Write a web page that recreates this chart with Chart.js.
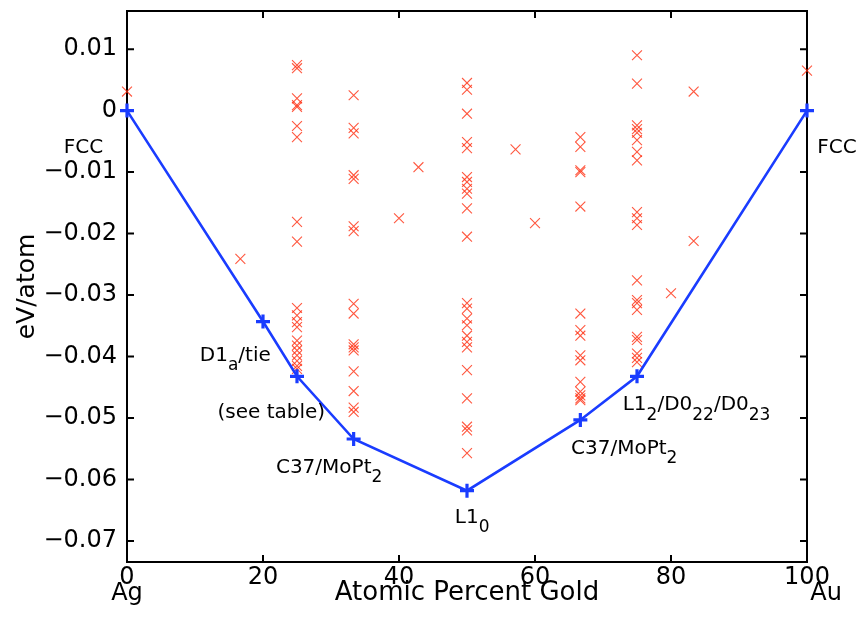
<!DOCTYPE html>
<html>
<head>
<meta charset="utf-8">
<script src="https://cdn.jsdelivr.net/npm/chart.js@4.4.0/dist/chart.umd.min.js"></script>
<style>
  html, body { margin: 0; padding: 0; background: #fff; }
  #wrap { width: 863px; height: 637px; }
</style>
</head>
<body>
<div id="wrap"><canvas id="hull-chart"></canvas></div>
<script>
// Ag-Au formation energies: other structures (red x) and the convex hull (blue +)

const FONT = '"DejaVu Sans", sans-serif';
const CROSS_COLOR = "rgba(255, 45, 15, 0.8)";
const HULL_COLOR = "#1a3cff";

// x positions of the tick labels
const xTicks = [0, 20, 40, 60, 80, 100];
const yTicks = [0.01, 0, -0.01, -0.02, -0.03, -0.04, -0.05, -0.06, -0.07];

// ground-state hull
const hullComp = [0, 20, 25, 33.33, 50, 66.67, 75, 100];
const hullEnergy = [0, -0.0343, -0.0432, -0.0534, -0.0618, -0.0503, -0.0432, 0];

// other calculated structures, grouped by composition
const otherComp = [0, 16.67, 25, 33.33, 40, 42.86, 50, 57.14, 60, 66.67, 75, 80, 83.33, 100];
const otherEnergy = [
  [0.0031],
  [-0.0241],
  [0.0074, 0.0069, 0.0020, 0.0009, 0.0006, -0.0025, -0.0043, -0.0181, -0.0213,
   -0.0321, -0.0333, -0.0344, -0.0352, -0.0374, -0.0382, -0.0390, -0.0398, -0.0407, -0.0415, -0.0420],
  [0.0025, -0.0028, -0.0037, -0.0105, -0.0111, -0.0188, -0.0196,
   -0.0314, -0.0330, -0.0380, -0.0385, -0.0390, -0.0424, -0.0456, -0.0483, -0.0490],
  [-0.0175],
  [-0.0092],
  [0.0045, 0.0034, -0.0005, -0.0051, -0.0061, -0.0108, -0.0116, -0.0127, -0.0135, -0.0159, -0.0205,
   -0.0313, -0.0322, -0.0338, -0.0349, -0.0366, -0.0376, -0.0385, -0.0422, -0.0468, -0.0514, -0.0520, -0.0557],
  [-0.0063],
  [-0.0183],
  [-0.0043, -0.0059, -0.0097, -0.0100, -0.0156, -0.0330, -0.0357, -0.0366, -0.0398, -0.0406,
   -0.0441, -0.0457, -0.0463, -0.0468, -0.0471],
  [0.0090, 0.0044, -0.0024, -0.0030, -0.0036, -0.0048, -0.0067, -0.0081, -0.0165, -0.0175, -0.0186,
   -0.0276, -0.0308, -0.0313, -0.0324, -0.0368, -0.0373, -0.0395, -0.0402, -0.0409],
  [-0.0297],
  [0.0031, -0.0212],
  [0.0065],
];

// structure labels, "_" marks a subscript
const labelTexts = ["FCC", "FCC", "D1_a/tie", "(see table)", "C37/MoPt_2", "L1_0", "C37/MoPt_2", "L1_2/D0_{22}/D0_{23}"];
const labelComp = [-9.3, 101.5, 10.7, 13.3, 21.9, 48.2, 65.3, 72.9];
const labelEnergy = [-0.0061, -0.0061, -0.0398, -0.0491, -0.0580, -0.0662, -0.0550, -0.0479];

const crossPoints = [];
otherComp.forEach((c, i) => otherEnergy[i].forEach((e) => crossPoints.push({ x: c, y: e })));

function drawRich(ctx, str, x, y, size) {
  const parts = [];
  let buf = "";
  for (let i = 0; i < str.length; i++) {
    if (str[i] === "_") {
      if (buf) parts.push([buf, false]);
      buf = "";
      if (str[i + 1] === "{") {
        const j = str.indexOf("}", i);
        parts.push([str.slice(i + 2, j), true]);
        i = j;
      } else {
        parts.push([str[i + 1], true]);
        i++;
      }
    } else buf += str[i];
  }
  if (buf) parts.push([buf, false]);
  let cx = x;
  for (const [t, sub] of parts) {
    ctx.font = `${sub ? size * 0.85 : size}px ${FONT}`;
    ctx.fillText(t, cx, sub ? y + size * 0.5 : y);
    cx += ctx.measureText(t).width;
  }
}

const frameTicks = {
  id: "frameTicks",
  beforeDatasetsDraw(chart) {
    const { ctx, chartArea: a, scales } = chart;
    ctx.save();
    ctx.strokeStyle = "#000";
    ctx.lineWidth = 2;
    ctx.strokeRect(a.left, a.top, a.right - a.left, a.bottom - a.top);
    ctx.beginPath();
    const len = 7;
    yTicks.forEach((v) => {
      const p = scales.y.getPixelForValue(v);
      ctx.moveTo(a.left, p); ctx.lineTo(a.left + len, p);
      ctx.moveTo(a.right, p); ctx.lineTo(a.right - len, p);
    });
    xTicks.forEach((v) => {
      const p = scales.x.getPixelForValue(v);
      ctx.moveTo(p, a.bottom); ctx.lineTo(p, a.bottom - len);
      ctx.moveTo(p, a.top); ctx.lineTo(p, a.top + len);
    });
    ctx.stroke();
    ctx.restore();
  },
  afterDraw(chart) {
    const { ctx, scales } = chart;
    ctx.save();
    ctx.fillStyle = "#000";
    ctx.textBaseline = "middle";
    ctx.textAlign = "left";
    labelTexts.forEach((t, i) => {
      drawRich(ctx, t, scales.x.getPixelForValue(labelComp[i]), scales.y.getPixelForValue(labelEnergy[i]), 20);
    });
    ctx.restore();
  },
};

new Chart(document.getElementById("hull-chart"), {
  type: "scatter",
  data: {
    datasets: [
      {
        label: "hull",
        data: hullComp.map((c, i) => ({ x: c, y: hullEnergy[i] })),
        showLine: true,
        borderColor: HULL_COLOR,
        borderWidth: 2.6,
        pointStyle: "cross",
        pointRadius: 7,
        pointBorderWidth: 3.2,
        pointBorderColor: HULL_COLOR,
        clip: false,
      },
      {
        label: "others",
        data: crossPoints,
        pointStyle: "crossRot",
        pointRadius: 7,
        pointBorderWidth: 1.1,
        pointBorderColor: CROSS_COLOR,
        clip: false,
      },
    ],
  },
  options: {
    responsive: true,
    maintainAspectRatio: false,
    animation: false,
    layout: { padding: { top: 11, right: 56, left: 0, bottom: 0 } },
    plugins: { legend: { display: false }, tooltip: { enabled: false } },
    scales: {
      x: {
        type: "linear",
        min: 0,
        max: 100,
        afterFit: (s) => { s.height = 75; s.paddingLeft = 0; s.paddingRight = 0; },
        afterBuildTicks: (s) => { s.ticks = xTicks.map((v) => ({ value: v })); },
        grid: { display: false, drawTicks: false },
        border: { display: false },
        ticks: {
          color: "#000",
          padding: 7,
          maxRotation: 0,
          font: { family: FONT, size: 24, lineHeight: 0.7 },
          callback: (v) => (v === 0 ? ["0", "Ag"] : v === 100 ? ["100", "     Au"] : String(v)),
        },
        title: {
          display: true,
          text: "Atomic Percent Gold",
          color: "#000",
          font: { family: FONT, size: 26 },
          padding: { bottom: 28 },
        },
      },
      y: {
        type: "linear",
        min: -0.0734,
        max: 0.0162,
        afterFit: (s) => { s.width = 127; s.paddingTop = 0; s.paddingBottom = 0; },
        afterBuildTicks: (s) => { s.ticks = yTicks.map((v) => ({ value: v })); },
        grid: { display: false, drawTicks: false },
        border: { display: false },
        ticks: {
          color: "#000",
          padding: 10,
          font: { family: FONT, size: 24 },
          callback: (v) => (Math.abs(v) < 1e-9 ? "0" : (v < 0 ? "\u2212" : "") + Math.abs(v).toFixed(2)),
        },
        title: {
          display: true,
          text: "eV/atom",
          color: "#000",
          font: { family: FONT, size: 25 },
          padding: { top: 12 },
        },
      },
    },
  },
  plugins: [frameTicks],
});
</script>
</body>
</html>
